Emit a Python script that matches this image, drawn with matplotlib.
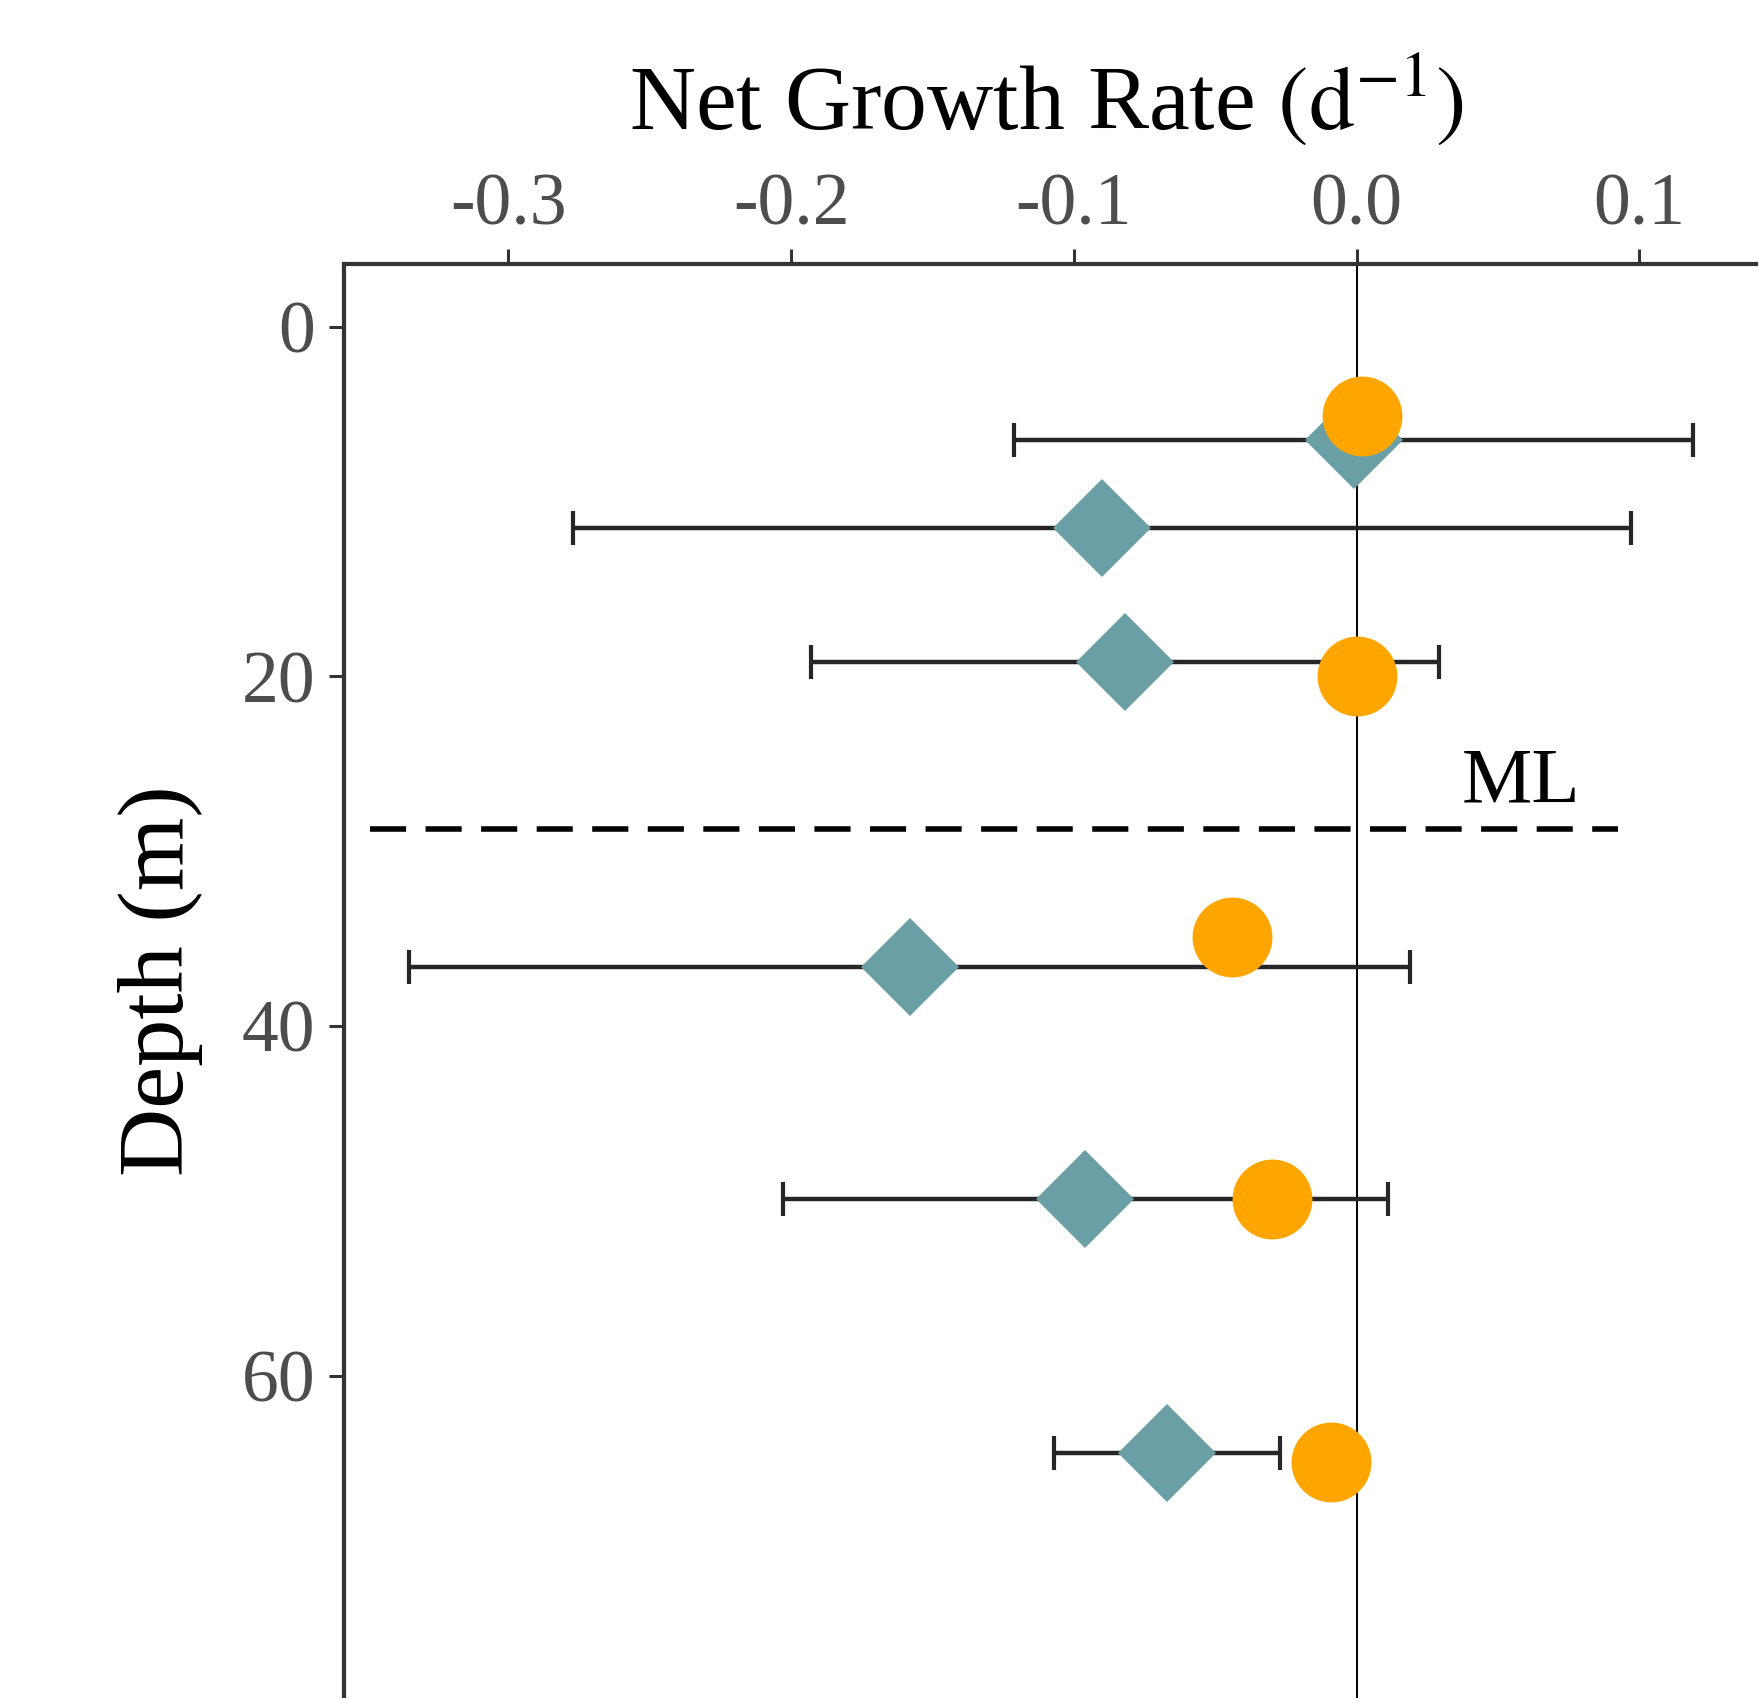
import numpy as np
import matplotlib
matplotlib.use("Agg")
import matplotlib.pyplot as plt

# depth profile of net growth rates
diamond_depth = [6.5, 11.5, 19.2, 36.6, 49.9, 64.4]
diamond_rate = [-0.001, -0.090, -0.082, -0.158, -0.096, -0.067]
diamond_err = [0.120, 0.187, 0.111, 0.177, 0.107, 0.040]

circle_depth = [5.1, 20.0, 34.9, 49.9, 64.9]
circle_rate = [0.002, 0.000, -0.044, -0.030, -0.009]

ml_depth = 28.7
x_ticks = [-0.3, -0.2, -0.1, 0.0, 0.1]
x_ticklabels = ["-0.3", "-0.2", "-0.1", "0.0", "0.1"]
y_ticks = [0, 20, 40, 60]

TEAL = "#6a9fa5"
ORANGE = "#ffa500"
SPINE = "#333333"
TICKLAB = "#4d4d4d"


def make_plot():
    plt.rcParams["font.family"] = ["Liberation Serif", "DejaVu Serif"]
    plt.rcParams["mathtext.fontset"] = "stix"

    fig = plt.figure(figsize=(17.59, 16.98), dpi=100)
    ax = fig.add_axes([0.1958, 0.0, 0.8027, 0.8447])

    ax.axvline(0, color="black", lw=1.4, zorder=1)

    ax.errorbar(diamond_rate, diamond_depth, xerr=diamond_err, fmt="none",
                ecolor="#262626", elinewidth=3.2, capsize=12.5, capthick=3,
                zorder=2)
    ax.plot(diamond_rate, diamond_depth, "D", color=TEAL, ms=49.5, mew=0,
            zorder=3)
    ax.plot(circle_rate, circle_depth, "o", color=ORANGE, ms=57.5, mew=0,
            zorder=4)

    ax.plot([-0.349, 0.0925], [ml_depth, ml_depth], color="black", lw=4,
            dashes=(6.5, 3.5), zorder=2)
    ax.text(0.058, ml_depth - 0.6, "ML", fontsize=57, ha="center",
            va="bottom", color="black")

    ax.set_xlim(-0.358, 0.1414)
    ax.set_ylim(78.4, -3.59)

    ax.xaxis.tick_top()
    ax.xaxis.set_label_position("top")
    ax.set_xticks(x_ticks)
    ax.set_xticklabels(x_ticklabels)
    ax.set_yticks(y_ticks)

    ax.tick_params(axis="both", length=11, width=2.2, color=SPINE,
                   labelsize=53, labelcolor=TICKLAB)
    ax.tick_params(axis="x", pad=6)
    ax.tick_params(axis="y", pad=10)

    for side in ["right", "bottom"]:
        ax.spines[side].set_visible(False)
    for side in ["top", "left"]:
        ax.spines[side].set_color(SPINE)
        ax.spines[side].set_linewidth(3)

    ax.set_xlabel(r"Net Growth Rate $\left(\mathrm{d}^{-1}\right)$",
                  fontsize=66)
    ax.xaxis.set_label_coords(0.497, 1.094)
    ax.set_ylabel("Depth (m)", fontsize=68)
    ax.yaxis.set_label_coords(-0.100, 0.5)

    fig.savefig("out.png", dpi=100)
    plt.close(fig)


def main():
    make_plot()


if __name__ == "__main__":
    main()
